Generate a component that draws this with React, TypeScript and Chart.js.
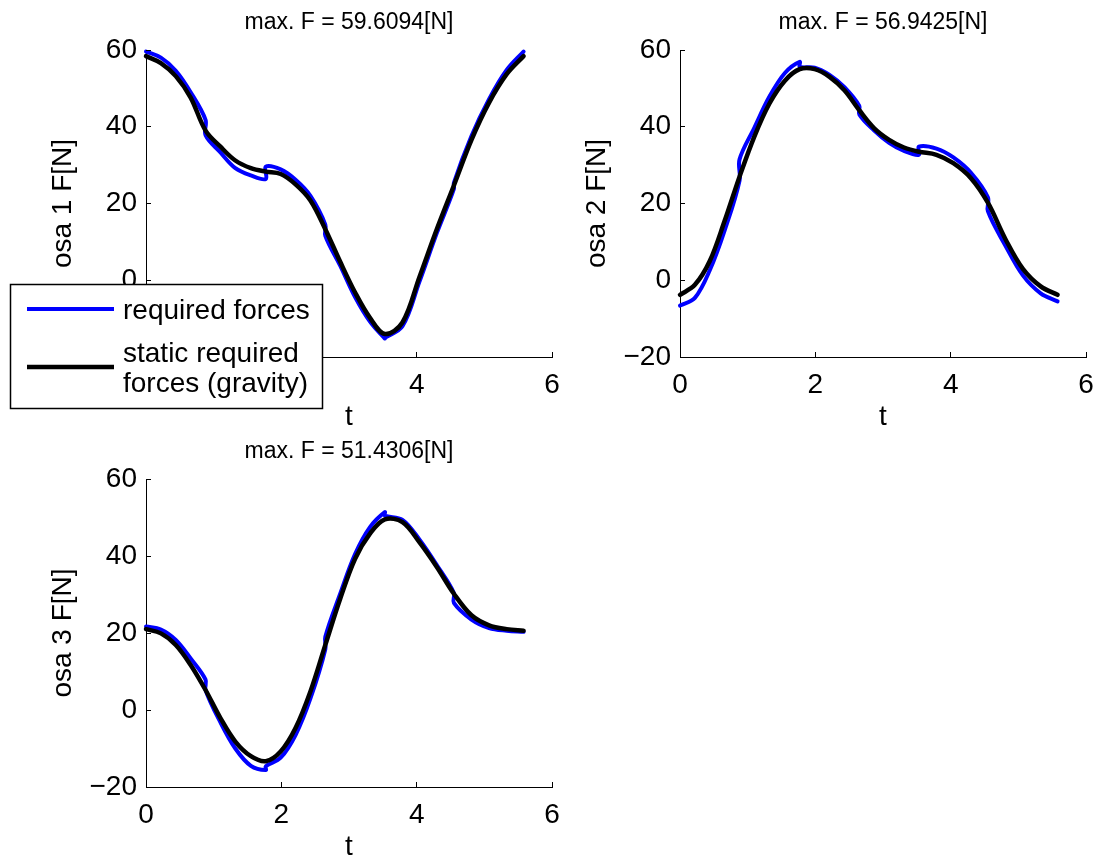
import React, { useEffect, useRef } from "react";
import { Chart, registerables } from "chart.js";

Chart.register(...registerables);

const W = 1096;
const H = 859;
const FONT = "'Liberation Sans', Arial, Helvetica, sans-serif";

// ---------- data ----------
const tStatic = [0, 0.22, 0.44, 0.66, 0.88, 1.1, 1.32, 1.55, 1.77, 1.99, 2.21, 2.43, 2.65, 2.87, 3.09, 3.31, 3.53, 3.79, 4.04, 4.3, 4.55, 4.81, 5.07, 5.33, 5.58];
const tRequired = [0, 0.22, 0.44, 0.66, 0.88, 0.88, 1.1, 1.32, 1.55, 1.77, 1.77, 1.99, 2.21, 2.43, 2.65, 2.65, 2.87, 3.09, 3.31, 3.53, 3.53, 3.79, 4.04, 4.3, 4.55, 4.55, 4.81, 5.07, 5.33, 5.58];

const staticF1 = [58.4, 56.6, 53.2, 47.6, 39.0, 34.8, 31.2, 29.2, 28.3, 27.7, 25.0, 20.8, 13.3, 4.8, -3.2, -9.8, -14.0, -11.0, 0.8, 13.4, 24.7, 36.6, 46.3, 53.7, 58.4];
const requiredF1 = [59.6, 58.0, 54.6, 49.0, 41.8, 37.8, 33.3, 29.2, 27.3, 26.4, 29.6, 28.9, 26.2, 22.0, 14.5, 11.6, 3.8, -4.4, -10.8, -15.2, -15.0, -12.0, -0.4, 12.4, 23.8, 25.4, 37.6, 47.2, 54.8, 59.6];

const staticF2 = [-3.8, -1.2, 5.0, 15.5, 27.0, 37.5, 46.0, 52.0, 55.0, 55.0, 53.0, 49.5, 44.3, 39.6, 36.6, 34.6, 33.5, 32.7, 30.5, 26.6, 20.2, 10.7, 2.9, -1.6, -3.8];
const requiredF2 = [-6.6, -4.6, 2.6, 13.0, 26.0, 31.5, 39.8, 47.8, 54.0, 56.9, 55.6, 55.4, 53.5, 50.3, 45.4, 43.2, 39.0, 35.8, 33.7, 32.7, 34.8, 34.3, 32.0, 28.0, 21.6, 18.0, 9.0, 1.2, -3.4, -5.5];

const staticF3 = [21.0, 19.9, 16.9, 11.7, 5.2, -2.1, -8.2, -12.0, -13.3, -10.8, -4.7, 4.8, 16.9, 28.9, 39.3, 45.8, 49.5, 48.8, 43.6, 37.1, 30.2, 24.6, 22.0, 21.0, 20.6];
const requiredF3 = [21.7, 20.9, 18.2, 13.4, 7.9, 5.2, -3.2, -10.0, -14.5, -15.6, -14.6, -12.4, -6.5, 3.0, 15.8, 19.0, 30.2, 40.5, 47.5, 51.4, 50.5, 49.4, 44.3, 37.6, 30.4, 27.8, 23.5, 21.3, 20.6, 20.3];

const titles = ["max. F = 59.6094[N]", "max. F = 56.9425[N]", "max. F = 51.4306[N]"];
const yLabels = ["osa 1 F[N]", "osa 2 F[N]", "osa 3 F[N]"];
const xLabel = "t";
const xTicks = [0, 2, 4, 6];
const yTicks = [-20, 0, 20, 40, 60];
const legendRequired = ["required forces"];
const legendStatic = ["static required", "forces (gravity)"];

// ---------- layout ----------
const TICK_FONT = 28;
const TITLE_FONT = 23;
const Y_SCALE_W = 120;
const X_SCALE_H = 76.8;
const TITLE_BOX = 40.8;
const BLUE = "#0000ff";
const BLACK = "#000000";

const panels = [
  { area: { left: 146, top: 50, right: 552, bottom: 357 }, title: titles[0], ylabel: yLabels[0], req: requiredF1, stat: staticF1, legend: true },
  { area: { left: 680, top: 50, right: 1086, bottom: 357 }, title: titles[1], ylabel: yLabels[1], req: requiredF2, stat: staticF2, legend: false },
  { area: { left: 146, top: 479, right: 552, bottom: 787 }, title: titles[2], ylabel: yLabels[2], req: requiredF3, stat: staticF3, legend: false },
];

const align = (v: number) => Math.round(v - 0.5) + 0.5;

const inwardTicks = {
  id: "inwardTicks",
  afterDraw(chart: any) {
    const { ctx, chartArea, scales } = chart;
    ctx.save();
    ctx.strokeStyle = "#000";
    ctx.lineWidth = 1;
    scales.x.ticks.forEach((t: any) => {
      const x = align(scales.x.getPixelForValue(t.value));
      ctx.beginPath();
      ctx.moveTo(x, chartArea.bottom);
      ctx.lineTo(x, chartArea.bottom - 5);
      ctx.stroke();
    });
    scales.y.ticks.forEach((t: any) => {
      const y = align(scales.y.getPixelForValue(t.value));
      ctx.beginPath();
      ctx.moveTo(chartArea.left, y);
      ctx.lineTo(chartArea.left + 5, y);
      ctx.stroke();
    });
    ctx.restore();
  },
};

const legendPlugin = {
  id: "subplotLegend",
  afterDraw(chart: any) {
    const ctx = chart.ctx;
    const ds = chart.data.datasets;
    ctx.save();
    ctx.fillStyle = "#fff";
    ctx.fillRect(10, 284, 312, 124);
    ctx.strokeStyle = "#000";
    ctx.lineWidth = 1.5;
    ctx.strokeRect(10.5, 284.5, 312, 124);

    const entries = [
      { color: ds[1].borderColor, width: ds[1].borderWidth, lines: legendRequired, lineY: 309, baselines: [319] },
      { color: ds[0].borderColor, width: ds[0].borderWidth, lines: legendStatic, lineY: 367, baselines: [362, 392] },
    ];
    ctx.font = `${TICK_FONT}px ${FONT}`;
    ctx.textBaseline = "alphabetic";
    ctx.textAlign = "left";
    entries.forEach((e) => {
      ctx.strokeStyle = e.color;
      ctx.lineWidth = e.width;
      ctx.beginPath();
      ctx.moveTo(27, e.lineY);
      ctx.lineTo(114, e.lineY);
      ctx.stroke();
      ctx.fillStyle = "#000";
      e.lines.forEach((txt: string, i: number) => ctx.fillText(txt, 123, e.baselines[i]));
    });
    ctx.restore();
  },
};

const fmt = (v: number) => (v < 0 ? "\u2212" + Math.abs(v) : String(v));

function makeConfig(p: any): any {
  const { left, top, right, bottom } = p.area;
  return {
    type: "line",
    data: {
      datasets: [
        {
          label: legendStatic.join(" "),
          data: tStatic.map((t, i) => ({ x: t, y: p.stat[i] })),
          borderColor: BLACK,
          borderWidth: 4.5,
          pointRadius: 0,
          tension: 0.35,
          order: 0,
          clip: false,
          borderJoinStyle: "round",
          borderCapStyle: "round",
        },
        {
          label: legendRequired[0],
          data: tRequired.map((t, i) => ({ x: t, y: p.req[i] })),
          borderColor: BLUE,
          borderWidth: 4,
          pointRadius: 0,
          tension: 0.35,
          order: 1,
          clip: false,
          borderJoinStyle: "round",
          borderCapStyle: "round",
        },
      ],
    },
    options: {
      animation: false,
      responsive: false,
      events: [],
      layout: {
        padding: {
          left: left - Y_SCALE_W,
          top: top - TITLE_BOX,
          right: W - right,
          bottom: H - bottom - X_SCALE_H,
        },
      },
      plugins: {
        legend: { display: false },
        tooltip: { enabled: false },
        title: {
          display: true,
          text: p.title,
          fullSize: false,
          color: "#000",
          font: { family: FONT, size: TITLE_FONT, weight: "normal", lineHeight: 1.2 },
          padding: { top: 0, bottom: TITLE_BOX - TITLE_FONT * 1.2 },
        },
      },
      scales: {
        x: {
          type: "linear",
          min: xTicks[0],
          max: xTicks[xTicks.length - 1],
          afterBuildTicks: (s: any) => {
            s.ticks = xTicks.map((v) => ({ value: v }));
          },
          afterFit: (s: any) => {
            s.height = X_SCALE_H;
            s.paddingLeft = 0;
            s.paddingRight = 0;
          },
          grid: { display: false, drawTicks: false },
          border: { display: true, color: "#000", width: 1 },
          ticks: {
            color: "#000",
            font: { family: FONT, size: TICK_FONT, lineHeight: 1.2 },
            padding: 11,
            maxRotation: 0,
            autoSkip: false,
            callback: (v: number) => fmt(v),
          },
          title: {
            display: true,
            text: xLabel,
            color: "#000",
            font: { family: FONT, size: TICK_FONT, lineHeight: 1.2 },
            padding: { top: 0, bottom: 0 },
          },
        },
        y: {
          type: "linear",
          min: yTicks[0],
          max: yTicks[yTicks.length - 1],
          afterBuildTicks: (s: any) => {
            s.ticks = yTicks.map((v) => ({ value: v }));
          },
          afterFit: (s: any) => {
            s.width = Y_SCALE_W;
            s.paddingTop = 0;
            s.paddingBottom = 0;
          },
          grid: { display: false, drawTicks: false },
          border: { display: true, color: "#000", width: 1 },
          ticks: {
            color: "#000",
            font: { family: FONT, size: TICK_FONT, lineHeight: 1.2 },
            padding: 9,
            autoSkip: false,
            callback: (v: number) => fmt(v),
          },
          title: {
            display: true,
            text: p.ylabel,
            color: "#000",
            font: { family: FONT, size: TICK_FONT, lineHeight: 1.2 },
            padding: { top: 20.2, bottom: 0 },
          },
        },
      },
    },
    plugins: p.legend ? [inwardTicks, legendPlugin] : [inwardTicks],
  };
}

export default function App() {
  const r0 = useRef<HTMLCanvasElement>(null);
  const r1 = useRef<HTMLCanvasElement>(null);
  const r2 = useRef<HTMLCanvasElement>(null);
  const refs = [r0, r1, r2];

  useEffect(() => {
    Chart.defaults.font.family = FONT;
    Chart.defaults.color = "#000";
    const charts = panels.map((p, i) => new Chart(refs[i].current as HTMLCanvasElement, makeConfig(p)));
    return () => charts.forEach((c) => c.destroy());
  }, []);

  return (
    <div style={{ position: "absolute", left: 0, top: 0, width: W, height: H, background: "#fff", overflow: "hidden" }}>
      {refs.map((r, i) => (
        <canvas
          key={i}
          ref={r}
          width={W}
          height={H}
          style={{ position: "absolute", left: 0, top: 0, width: W, height: H }}
        />
      ))}
    </div>
  );
}
